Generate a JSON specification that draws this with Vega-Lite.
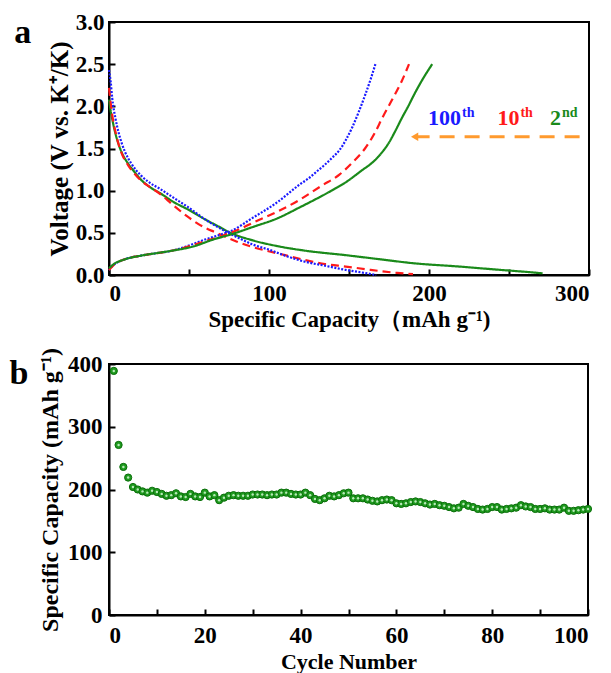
{
  "$schema": "https://vega.github.io/schema/vega-lite/v6.json",
  "padding": {"left": 8, "top": 10, "right": 10, "bottom": 5},
  "background": "white",
  "spacing": 14,
  "config": {
    "font": "Liberation Serif",
    "view": {"stroke": "black", "strokeWidth": 2},
    "axis": {
      "labelFont": "Liberation Serif", "labelFontWeight": "bold", "labelFontSize": 23, "labelColor": "black",
      "titleFont": "Liberation Serif", "titleFontWeight": "bold", "titleColor": "black",
      "domainColor": "black", "domainWidth": 2, "tickColor": "black", "tickWidth": 2, "tickSize": -6,
      "grid": false
    },
    "title": {"font": "Liberation Serif", "fontWeight": "bold", "fontSize": 34, "color": "black"}
  },
  "datasets": {
    "curves": [
      {"cyc": "2nd", "seg": "discharge", "c": 0, "v": 2.08},
      {"cyc": "2nd", "seg": "discharge", "c": 1, "v": 1.95},
      {"cyc": "2nd", "seg": "discharge", "c": 2, "v": 1.85},
      {"cyc": "2nd", "seg": "discharge", "c": 4, "v": 1.68},
      {"cyc": "2nd", "seg": "discharge", "c": 6, "v": 1.55},
      {"cyc": "2nd", "seg": "discharge", "c": 8, "v": 1.45},
      {"cyc": "2nd", "seg": "discharge", "c": 12, "v": 1.32},
      {"cyc": "2nd", "seg": "discharge", "c": 16, "v": 1.22},
      {"cyc": "2nd", "seg": "discharge", "c": 20, "v": 1.13},
      {"cyc": "2nd", "seg": "discharge", "c": 25, "v": 1.05},
      {"cyc": "2nd", "seg": "discharge", "c": 32, "v": 0.97},
      {"cyc": "2nd", "seg": "discharge", "c": 40, "v": 0.87},
      {"cyc": "2nd", "seg": "discharge", "c": 50, "v": 0.77},
      {"cyc": "2nd", "seg": "discharge", "c": 60, "v": 0.66},
      {"cyc": "2nd", "seg": "discharge", "c": 68, "v": 0.58},
      {"cyc": "2nd", "seg": "discharge", "c": 76, "v": 0.5},
      {"cyc": "2nd", "seg": "discharge", "c": 90, "v": 0.41},
      {"cyc": "2nd", "seg": "discharge", "c": 106, "v": 0.34},
      {"cyc": "2nd", "seg": "discharge", "c": 122, "v": 0.29},
      {"cyc": "2nd", "seg": "discharge", "c": 148, "v": 0.235},
      {"cyc": "2nd", "seg": "discharge", "c": 170, "v": 0.185},
      {"cyc": "2nd", "seg": "discharge", "c": 190, "v": 0.14},
      {"cyc": "2nd", "seg": "discharge", "c": 219, "v": 0.1},
      {"cyc": "2nd", "seg": "discharge", "c": 245, "v": 0.06},
      {"cyc": "2nd", "seg": "discharge", "c": 262, "v": 0.035},
      {"cyc": "2nd", "seg": "discharge", "c": 271, "v": 0.02},
      {"cyc": "10th", "seg": "discharge", "c": 0, "v": 2.22},
      {"cyc": "10th", "seg": "discharge", "c": 1, "v": 2.05},
      {"cyc": "10th", "seg": "discharge", "c": 2, "v": 1.9},
      {"cyc": "10th", "seg": "discharge", "c": 4, "v": 1.7},
      {"cyc": "10th", "seg": "discharge", "c": 6, "v": 1.55},
      {"cyc": "10th", "seg": "discharge", "c": 8, "v": 1.44},
      {"cyc": "10th", "seg": "discharge", "c": 12, "v": 1.3},
      {"cyc": "10th", "seg": "discharge", "c": 16, "v": 1.2},
      {"cyc": "10th", "seg": "discharge", "c": 20, "v": 1.12},
      {"cyc": "10th", "seg": "discharge", "c": 25, "v": 1.05},
      {"cyc": "10th", "seg": "discharge", "c": 32, "v": 0.96},
      {"cyc": "10th", "seg": "discharge", "c": 40, "v": 0.83},
      {"cyc": "10th", "seg": "discharge", "c": 50, "v": 0.68},
      {"cyc": "10th", "seg": "discharge", "c": 60, "v": 0.56},
      {"cyc": "10th", "seg": "discharge", "c": 66, "v": 0.51},
      {"cyc": "10th", "seg": "discharge", "c": 72, "v": 0.46},
      {"cyc": "10th", "seg": "discharge", "c": 80, "v": 0.395},
      {"cyc": "10th", "seg": "discharge", "c": 90, "v": 0.33},
      {"cyc": "10th", "seg": "discharge", "c": 101, "v": 0.276},
      {"cyc": "10th", "seg": "discharge", "c": 110, "v": 0.235},
      {"cyc": "10th", "seg": "discharge", "c": 122, "v": 0.18},
      {"cyc": "10th", "seg": "discharge", "c": 135, "v": 0.13},
      {"cyc": "10th", "seg": "discharge", "c": 148, "v": 0.1},
      {"cyc": "10th", "seg": "discharge", "c": 160, "v": 0.07},
      {"cyc": "10th", "seg": "discharge", "c": 170, "v": 0.045},
      {"cyc": "10th", "seg": "discharge", "c": 180, "v": 0.025},
      {"cyc": "10th", "seg": "discharge", "c": 190, "v": 0.01},
      {"cyc": "100th", "seg": "discharge", "c": 0, "v": 2.43},
      {"cyc": "100th", "seg": "discharge", "c": 1, "v": 2.3},
      {"cyc": "100th", "seg": "discharge", "c": 2, "v": 2.1},
      {"cyc": "100th", "seg": "discharge", "c": 4, "v": 1.86},
      {"cyc": "100th", "seg": "discharge", "c": 6, "v": 1.69},
      {"cyc": "100th", "seg": "discharge", "c": 8, "v": 1.56},
      {"cyc": "100th", "seg": "discharge", "c": 10, "v": 1.46},
      {"cyc": "100th", "seg": "discharge", "c": 14, "v": 1.32},
      {"cyc": "100th", "seg": "discharge", "c": 20, "v": 1.18},
      {"cyc": "100th", "seg": "discharge", "c": 25, "v": 1.1},
      {"cyc": "100th", "seg": "discharge", "c": 32, "v": 1.02},
      {"cyc": "100th", "seg": "discharge", "c": 40, "v": 0.92},
      {"cyc": "100th", "seg": "discharge", "c": 49, "v": 0.81},
      {"cyc": "100th", "seg": "discharge", "c": 60, "v": 0.66},
      {"cyc": "100th", "seg": "discharge", "c": 74, "v": 0.505},
      {"cyc": "100th", "seg": "discharge", "c": 82, "v": 0.43},
      {"cyc": "100th", "seg": "discharge", "c": 90, "v": 0.36},
      {"cyc": "100th", "seg": "discharge", "c": 100, "v": 0.3},
      {"cyc": "100th", "seg": "discharge", "c": 110, "v": 0.23},
      {"cyc": "100th", "seg": "discharge", "c": 122, "v": 0.16},
      {"cyc": "100th", "seg": "discharge", "c": 135, "v": 0.11},
      {"cyc": "100th", "seg": "discharge", "c": 148, "v": 0.06},
      {"cyc": "100th", "seg": "discharge", "c": 158, "v": 0.03},
      {"cyc": "100th", "seg": "discharge", "c": 167, "v": 0.0},
      {"cyc": "100th", "seg": "charge", "c": 0, "v": 0.06},
      {"cyc": "100th", "seg": "charge", "c": 3, "v": 0.12},
      {"cyc": "100th", "seg": "charge", "c": 9, "v": 0.18},
      {"cyc": "100th", "seg": "charge", "c": 20, "v": 0.23},
      {"cyc": "100th", "seg": "charge", "c": 30, "v": 0.26},
      {"cyc": "100th", "seg": "charge", "c": 40, "v": 0.29},
      {"cyc": "100th", "seg": "charge", "c": 50, "v": 0.35},
      {"cyc": "100th", "seg": "charge", "c": 60, "v": 0.42},
      {"cyc": "100th", "seg": "charge", "c": 70, "v": 0.48},
      {"cyc": "100th", "seg": "charge", "c": 76, "v": 0.52},
      {"cyc": "100th", "seg": "charge", "c": 90, "v": 0.68},
      {"cyc": "100th", "seg": "charge", "c": 105, "v": 0.86},
      {"cyc": "100th", "seg": "charge", "c": 119, "v": 1.07},
      {"cyc": "100th", "seg": "charge", "c": 125, "v": 1.15},
      {"cyc": "100th", "seg": "charge", "c": 130, "v": 1.23},
      {"cyc": "100th", "seg": "charge", "c": 135, "v": 1.31},
      {"cyc": "100th", "seg": "charge", "c": 140, "v": 1.4},
      {"cyc": "100th", "seg": "charge", "c": 144, "v": 1.48},
      {"cyc": "100th", "seg": "charge", "c": 148, "v": 1.6},
      {"cyc": "100th", "seg": "charge", "c": 152, "v": 1.75},
      {"cyc": "100th", "seg": "charge", "c": 156, "v": 1.93},
      {"cyc": "100th", "seg": "charge", "c": 160, "v": 2.13},
      {"cyc": "100th", "seg": "charge", "c": 163.5, "v": 2.32},
      {"cyc": "100th", "seg": "charge", "c": 166.5, "v": 2.5},
      {"cyc": "10th", "seg": "charge", "c": 0, "v": 0.06},
      {"cyc": "10th", "seg": "charge", "c": 3, "v": 0.12},
      {"cyc": "10th", "seg": "charge", "c": 9, "v": 0.18},
      {"cyc": "10th", "seg": "charge", "c": 20, "v": 0.23},
      {"cyc": "10th", "seg": "charge", "c": 30, "v": 0.26},
      {"cyc": "10th", "seg": "charge", "c": 40, "v": 0.29},
      {"cyc": "10th", "seg": "charge", "c": 50, "v": 0.34},
      {"cyc": "10th", "seg": "charge", "c": 60, "v": 0.4},
      {"cyc": "10th", "seg": "charge", "c": 70, "v": 0.46},
      {"cyc": "10th", "seg": "charge", "c": 80, "v": 0.53},
      {"cyc": "10th", "seg": "charge", "c": 90, "v": 0.62},
      {"cyc": "10th", "seg": "charge", "c": 105, "v": 0.75},
      {"cyc": "10th", "seg": "charge", "c": 119, "v": 0.89},
      {"cyc": "10th", "seg": "charge", "c": 133, "v": 1.06},
      {"cyc": "10th", "seg": "charge", "c": 144, "v": 1.19},
      {"cyc": "10th", "seg": "charge", "c": 152, "v": 1.33},
      {"cyc": "10th", "seg": "charge", "c": 160, "v": 1.5},
      {"cyc": "10th", "seg": "charge", "c": 166, "v": 1.68},
      {"cyc": "10th", "seg": "charge", "c": 171, "v": 1.87},
      {"cyc": "10th", "seg": "charge", "c": 177, "v": 2.08},
      {"cyc": "10th", "seg": "charge", "c": 183, "v": 2.3},
      {"cyc": "10th", "seg": "charge", "c": 187.5, "v": 2.5},
      {"cyc": "2nd", "seg": "charge", "c": 0, "v": 0.08},
      {"cyc": "2nd", "seg": "charge", "c": 3, "v": 0.13},
      {"cyc": "2nd", "seg": "charge", "c": 9, "v": 0.18},
      {"cyc": "2nd", "seg": "charge", "c": 20, "v": 0.23},
      {"cyc": "2nd", "seg": "charge", "c": 30, "v": 0.26},
      {"cyc": "2nd", "seg": "charge", "c": 40, "v": 0.29},
      {"cyc": "2nd", "seg": "charge", "c": 53, "v": 0.34},
      {"cyc": "2nd", "seg": "charge", "c": 65, "v": 0.42},
      {"cyc": "2nd", "seg": "charge", "c": 76, "v": 0.48},
      {"cyc": "2nd", "seg": "charge", "c": 90, "v": 0.57},
      {"cyc": "2nd", "seg": "charge", "c": 105, "v": 0.67},
      {"cyc": "2nd", "seg": "charge", "c": 119, "v": 0.8},
      {"cyc": "2nd", "seg": "charge", "c": 139, "v": 1.0},
      {"cyc": "2nd", "seg": "charge", "c": 148, "v": 1.1},
      {"cyc": "2nd", "seg": "charge", "c": 158, "v": 1.24},
      {"cyc": "2nd", "seg": "charge", "c": 165, "v": 1.34},
      {"cyc": "2nd", "seg": "charge", "c": 170, "v": 1.44},
      {"cyc": "2nd", "seg": "charge", "c": 175, "v": 1.57},
      {"cyc": "2nd", "seg": "charge", "c": 179, "v": 1.71},
      {"cyc": "2nd", "seg": "charge", "c": 183, "v": 1.86},
      {"cyc": "2nd", "seg": "charge", "c": 187, "v": 2.0},
      {"cyc": "2nd", "seg": "charge", "c": 191, "v": 2.15},
      {"cyc": "2nd", "seg": "charge", "c": 196, "v": 2.32},
      {"cyc": "2nd", "seg": "charge", "c": 202, "v": 2.5}
    ],
    "labels": [
      {"cyc": "100th", "t": "100", "sup": "th", "c": 220, "v": 1.78},
      {"cyc": "10th", "t": "10", "sup": "th", "c": 256.5, "v": 1.78},
      {"cyc": "2nd", "t": "2", "sup": "nd", "c": 282.5, "v": 1.78}
    ],
    "arrow": [
      {"c": 191, "c2": 296, "v": 1.64}
    ],
    "cycling": [
      {"n": 1, "cap": 389}, {"n": 2, "cap": 271}, {"n": 3, "cap": 236}, {"n": 4, "cap": 219}, {"n": 5, "cap": 204},
      {"n": 6, "cap": 200}, {"n": 7, "cap": 197}, {"n": 8, "cap": 195}, {"n": 9, "cap": 198}, {"n": 10, "cap": 196},
      {"n": 11, "cap": 193}, {"n": 12, "cap": 190}, {"n": 13, "cap": 191}, {"n": 14, "cap": 194}, {"n": 15, "cap": 189},
      {"n": 16, "cap": 188}, {"n": 17, "cap": 193}, {"n": 18, "cap": 189}, {"n": 19, "cap": 188}, {"n": 20, "cap": 195},
      {"n": 21, "cap": 189}, {"n": 22, "cap": 191}, {"n": 23, "cap": 183}, {"n": 24, "cap": 187}, {"n": 25, "cap": 190},
      {"n": 26, "cap": 191}, {"n": 27, "cap": 190}, {"n": 28, "cap": 190}, {"n": 29, "cap": 190}, {"n": 30, "cap": 192},
      {"n": 31, "cap": 192}, {"n": 32, "cap": 192}, {"n": 33, "cap": 191}, {"n": 34, "cap": 192}, {"n": 35, "cap": 192},
      {"n": 36, "cap": 195}, {"n": 37, "cap": 195}, {"n": 38, "cap": 193}, {"n": 39, "cap": 192}, {"n": 40, "cap": 192},
      {"n": 41, "cap": 195}, {"n": 42, "cap": 191}, {"n": 43, "cap": 185}, {"n": 44, "cap": 183}, {"n": 45, "cap": 186},
      {"n": 46, "cap": 190}, {"n": 47, "cap": 189}, {"n": 48, "cap": 191}, {"n": 49, "cap": 194}, {"n": 50, "cap": 195},
      {"n": 51, "cap": 186}, {"n": 52, "cap": 186}, {"n": 53, "cap": 186}, {"n": 54, "cap": 184}, {"n": 55, "cap": 182},
      {"n": 56, "cap": 181}, {"n": 57, "cap": 183}, {"n": 58, "cap": 184}, {"n": 59, "cap": 183}, {"n": 60, "cap": 178},
      {"n": 61, "cap": 177}, {"n": 62, "cap": 178}, {"n": 63, "cap": 180}, {"n": 64, "cap": 181}, {"n": 65, "cap": 180},
      {"n": 66, "cap": 178}, {"n": 67, "cap": 176}, {"n": 68, "cap": 177}, {"n": 69, "cap": 175}, {"n": 70, "cap": 174},
      {"n": 71, "cap": 172}, {"n": 72, "cap": 170}, {"n": 73, "cap": 171}, {"n": 74, "cap": 177}, {"n": 75, "cap": 174},
      {"n": 76, "cap": 172}, {"n": 77, "cap": 169}, {"n": 78, "cap": 168}, {"n": 79, "cap": 169}, {"n": 80, "cap": 172},
      {"n": 81, "cap": 172}, {"n": 82, "cap": 168}, {"n": 83, "cap": 169}, {"n": 84, "cap": 170}, {"n": 85, "cap": 171},
      {"n": 86, "cap": 175}, {"n": 87, "cap": 173}, {"n": 88, "cap": 172}, {"n": 89, "cap": 169}, {"n": 90, "cap": 169},
      {"n": 91, "cap": 170}, {"n": 92, "cap": 168}, {"n": 93, "cap": 168}, {"n": 94, "cap": 168}, {"n": 95, "cap": 171},
      {"n": 96, "cap": 166}, {"n": 97, "cap": 166}, {"n": 98, "cap": 167}, {"n": 99, "cap": 168}, {"n": 100, "cap": 169}
    ]
  },
  "vconcat": [
    {
      "width": 480,
      "height": 253,
      "title": {"text": "a", "anchor": "start", "frame": "bounds", "dx": -33, "dy": 39, "offset": 0},
      "layer": [
        {
          "data": {"name": "curves"},
          "mark": {"type": "line", "strokeWidth": 2.2, "interpolate": "monotone"},
          "encoding": {
            "x": {"field": "c", "type": "quantitative", "scale": {"domain": [0, 300], "nice": false},
                  "axis": {"values": [0, 50, 100, 150, 200, 250, 300], "labelExpr": "datum.value % 100 === 0 ? datum.label : ''",
                           "title": "Specific Capacity（mAh g⁻¹)", "titleFontSize": 23, "labelPadding": 13, "titlePadding": 3}},
            "y": {"field": "v", "type": "quantitative", "scale": {"domain": [0, 3], "nice": false},
                  "axis": {"values": [0, 0.25, 0.5, 0.75, 1, 1.25, 1.5, 1.75, 2, 2.25, 2.5, 2.75, 3],
                           "labelExpr": "(datum.value * 2) % 1 === 0 ? format(datum.value, '.1f') : ''",
                           "title": "Voltage (V vs. K⁺/K)", "titleFontSize": 25, "labelPadding": 11, "titlePadding": 3}},
            "color": {"field": "cyc", "type": "nominal", "scale": {"domain": ["2nd", "10th", "100th"], "range": ["#1a8a1a", "#ff1a1a", "#1a1aff"]}, "legend": null},
            "strokeDash": {"field": "cyc", "type": "nominal", "scale": {"domain": ["2nd", "10th", "100th"], "range": [[1, 0], [8, 5], [2, 1.5]]}, "legend": null},
            "detail": {"field": "seg"}
          }
        },
        {
          "data": {"name": "arrow"},
          "mark": {"type": "rule", "color": "#ff9a2e", "strokeWidth": 3, "strokeDash": [15, 10]},
          "encoding": {
            "x": {"field": "c", "type": "quantitative", "offset": 16},
            "x2": {"field": "c2"},
            "y": {"field": "v", "type": "quantitative"}
          }
        },
        {
          "data": {"name": "arrow"},
          "mark": {"type": "point", "shape": "triangle-left", "filled": true, "color": "#ff9a2e", "size": 70, "opacity": 1},
          "encoding": {
            "x": {"field": "c", "type": "quantitative", "offset": 4},
            "y": {"field": "v", "type": "quantitative"}
          }
        },
        {
          "data": {"name": "labels"},
          "mark": {"type": "text", "align": "right", "baseline": "alphabetic", "fontSize": 22, "fontWeight": "bold", "font": "Liberation Serif"},
          "encoding": {
            "x": {"field": "c", "type": "quantitative"},
            "y": {"field": "v", "type": "quantitative"},
            "text": {"field": "t"},
            "color": {"field": "cyc", "type": "nominal", "legend": null}
          }
        },
        {
          "data": {"name": "labels"},
          "mark": {"type": "text", "align": "left", "baseline": "alphabetic", "fontSize": 14, "fontWeight": "bold", "font": "Liberation Serif", "dx": 1, "dy": -8},
          "encoding": {
            "x": {"field": "c", "type": "quantitative"},
            "y": {"field": "v", "type": "quantitative"},
            "text": {"field": "sup"},
            "color": {"field": "cyc", "type": "nominal", "legend": null}
          }
        }
      ]
    },
    {
      "width": 479,
      "height": 251,
      "title": {"text": "b", "anchor": "start", "frame": "bounds", "dx": -29, "dy": 43, "offset": 0},
      "data": {"name": "cycling"},
      "layer": [
        {
          "mark": {"type": "point", "filled": true, "color": "#1f9a1f", "stroke": "#0a6e0a", "strokeWidth": 1, "size": 52, "opacity": 1},
          "encoding": {
            "x": {"field": "n", "type": "quantitative", "scale": {"domain": [0, 100], "nice": false},
                  "axis": {"values": [0, 10, 20, 30, 40, 50, 60, 70, 80, 90, 100], "labelExpr": "datum.value % 20 === 0 ? datum.label : ''",
                           "title": "Cycle Number", "titleFontSize": 22, "labelPadding": 15, "titlePadding": 4}},
            "y": {"field": "cap", "type": "quantitative", "scale": {"domain": [0, 400], "nice": false},
                  "axis": {"values": [0, 50, 100, 150, 200, 250, 300, 350, 400], "labelExpr": "datum.value % 100 === 0 ? datum.label : ''",
                           "title": "Specific Capacity (mAh g⁻¹)", "titleFontSize": 24, "labelPadding": 13, "titlePadding": 5}}
          }
        },
        {
          "mark": {"type": "point", "filled": true, "color": "#b8eab8", "size": 6, "opacity": 1},
          "encoding": {
            "x": {"field": "n", "type": "quantitative"},
            "y": {"field": "cap", "type": "quantitative"}
          }
        }
      ]
    }
  ]
}
